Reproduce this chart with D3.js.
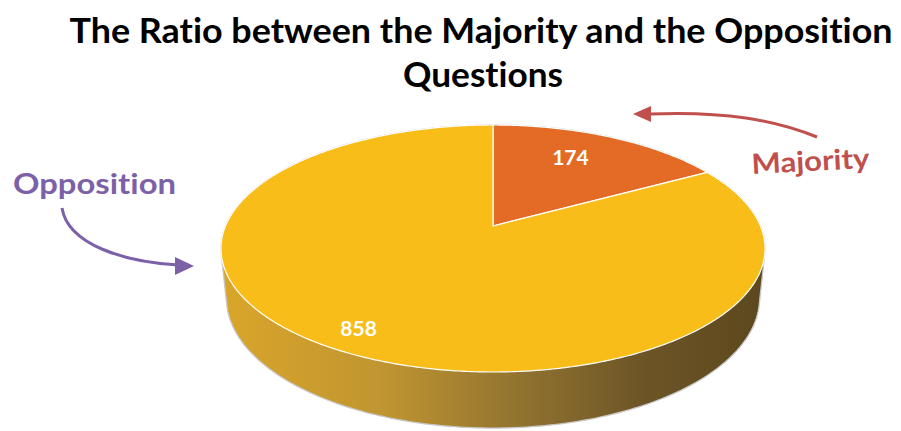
<!DOCTYPE html>
<html>
<head>
<meta charset="utf-8">
<script src="https://cdn.jsdelivr.net/npm/d3@7"></script>
<style>
  html, body { margin: 0; padding: 0; background: #ffffff; }
  svg { display: block; font-variant-ligatures: none; }
</style>
</head>
<body>
<div id="chart"></div>
<script>
// Question counts by bloc
const categories = ["Majority", "Opposition"];
const values = [174, 858];
const sliceColors = ["#E36B25", "#F9BD19"];
const titleLines = ["The Ratio between the Majority and the Opposition", "Questions"];

const W = 901, H = 431;
const svg = d3.select("#chart").append("svg")
  .attr("width", W).attr("height", H)
  .attr("font-family", "Lato, Carlito, 'Open Sans', sans-serif");

// Perspective projection of a unit disc (u, v) extruded to depth h (0 = top, 1 = base)
const CX = 493, CY = 226, A = 267.5, B = 119.4, K = 0.1822, M = 0.02, E = 49.9;
function proj(u, v, h) {
  const w = 1 - K * v + M * h;
  return [CX + A * u / w, CY + (B * v + E * h) / w];
}
// angle measured clockwise from 12 o'clock
function rim(a, h, r = 1) { return proj(r * Math.sin(a), -r * Math.cos(a), h); }

const pie = d3.pie().sort(null).value(d => d);
const arcs = pie(values);

const defs = svg.append("defs");
const grad = defs.append("linearGradient")
  .attr("id", "sideGrad").attr("gradientUnits", "userSpaceOnUse")
  .attr("x1", CX - A - 5).attr("x2", CX + A + 5).attr("y1", 0).attr("y2", 0);
[["0%", "#daa62a"], ["30%", "#c09531"], ["55%", "#917330"], ["78%", "#6c5426"], ["100%", "#5c481d"]]
  .forEach(([o, c]) => grad.append("stop").attr("offset", o).attr("stop-color", c));

const line = d3.line();
const steps = d3.range(0, 361).map(d => d * Math.PI / 180);

// Body of the cylinder: hull of the top and base rims
const hull = d3.polygonHull(steps.map(a => rim(a, 0)).concat(steps.map(a => rim(a, 1))));
svg.append("path")
  .attr("d", line(hull) + "Z")
  .attr("fill", "url(#sideGrad)")
  .attr("stroke", "#c8c8c8").attr("stroke-width", 1.3);

// Top face slices
svg.append("g").selectAll("path")
  .data(arcs)
  .join("path")
  .attr("d", d => {
    const n = Math.max(2, Math.ceil((d.endAngle - d.startAngle) / 0.01));
    const pts = [proj(0, 0, 0)].concat(d3.range(n + 1).map(i =>
      rim(d.startAngle + (d.endAngle - d.startAngle) * i / n, 0)));
    return line(pts) + "Z";
  })
  .attr("fill", (d, i) => sliceColors[i])
  .attr("stroke", "#ffffff").attr("stroke-width", 1.2).attr("stroke-linejoin", "round");

// Value labels
const labelRadius = [0.63, 0.86];
svg.append("g").selectAll("text")
  .data(arcs)
  .join("text")
  .attr("x", (d, i) => rim((d.startAngle + d.endAngle) / 2, 0, labelRadius[i])[0])
  .attr("y", (d, i) => rim((d.startAngle + d.endAngle) / 2, 0, labelRadius[i])[1])
  .attr("dy", (d, i) => i === 0 ? -2 : 8)
  .attr("text-anchor", "middle")
  .attr("font-size", 21).attr("font-weight", 700)
  .attr("fill", "#ffffff")
  .text(d => d.data);

// Title
svg.append("g").selectAll("text")
  .data(titleLines)
  .join("text")
  .attr("x", (d, i) => i === 0 ? 481 : 483)
  .attr("y", (d, i) => 43 + i * 44)
  .attr("text-anchor", "middle")
  .attr("font-size", 34).attr("font-weight", 700)
  .attr("fill", "#000000")
  .attr("textLength", (d, i) => i === 0 ? 823 : 160)
  .attr("lengthAdjust", "spacingAndGlyphs")
  .text(d => d);

// Call-outs
const oppColor = "#7d61a8", majColor = "#c0504d";

svg.append("text")
  .attr("x", 13).attr("y", 194)
  .attr("font-size", 29).attr("font-weight", 700)
  .attr("fill", oppColor)
  .attr("textLength", 163).attr("lengthAdjust", "spacingAndGlyphs")
  .text(categories[1]);

svg.append("path")
  .attr("d", "M62,208 C68,245 125,262 178,265")
  .attr("fill", "none").attr("stroke", oppColor).attr("stroke-width", 3);
svg.append("path")
  .attr("d", "M194,266 L175,257 L175,275 Z")
  .attr("fill", oppColor);

svg.append("text")
  .attr("x", 752).attr("y", 174)
  .attr("transform", "rotate(-3 752 174)")
  .attr("font-size", 28).attr("font-weight", 700)
  .attr("fill", majColor)
  .attr("textLength", 118).attr("lengthAdjust", "spacingAndGlyphs")
  .text(categories[0]);

svg.append("path")
  .attr("d", "M817,137 C775,120 725,111 650,114")
  .attr("fill", "none").attr("stroke", majColor).attr("stroke-width", 3);
svg.append("path")
  .attr("d", "M633,114 L651,106 L651,122 Z")
  .attr("fill", majColor);
</script>
</body>
</html>
